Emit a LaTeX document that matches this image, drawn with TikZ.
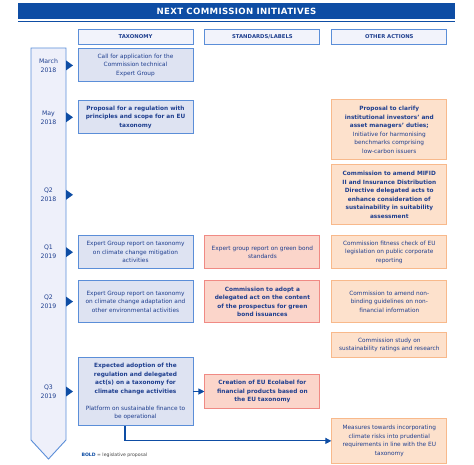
\documentclass[tikz,border=0pt]{standalone}
\usepackage{fontspec}
\setmainfont{DejaVu Sans}
\usetikzlibrary{positioning,arrows.meta}
\definecolor{euBlue}{HTML}{0E4DA4}
\definecolor{txtBlue}{HTML}{1F3F8F}
\definecolor{lineBlue}{HTML}{5B8ED8}
\definecolor{taxFill}{HTML}{DEE3F2}
\definecolor{headFill}{HTML}{F2F3FB}
\definecolor{stdFill}{HTML}{FBD5CA}
\definecolor{stdLine}{HTML}{F08A84}
\definecolor{othFill}{HTML}{FDE1CC}
\definecolor{othLine}{HTML}{F8B98B}
\definecolor{timeFill}{HTML}{EEF0FA}

\begin{document}
\begin{tikzpicture}[x=1pt, y=-1pt,
        box/.style={draw, line width=0.9pt, minimum width=115pt, align=center, inner xsep=3pt, inner ysep=2pt,
            text=txtBlue, font=\fontsize{5.8}{8.5}\selectfont},
        lawbox/.style={font=\fontsize{5.8}{8.5}\selectfont\bfseries},
        head/.style={box, fill=headFill, draw=lineBlue, minimum height=15pt, font=\fontsize{5.3}{6}\selectfont\bfseries},
        tax/.style={box, fill=taxFill, draw=lineBlue},
        std/.style={box, fill=stdFill, draw=stdLine},
        oth/.style={box, fill=othFill, draw=othLine},
        when/.style={text=txtBlue, align=center, font=\fontsize{6.2}{9}\selectfont},
        tick/.style={fill=euBlue},
        link/.style={draw=euBlue, line width=1.1pt, -{Triangle[length=6pt,width=6pt]}}]
    \useasboundingbox (0,0) rectangle (474,465);
    \node[fill=euBlue, text=white, minimum width=437pt, minimum height=16pt, inner sep=0pt,
        font=\fontsize{8.6}{9}\selectfont\bfseries\addfontfeatures{LetterSpace=4}] (title) at (236.5,11) {NEXT COMMISSION INITIATIVES};
    \draw[euBlue, line width=1pt] ([yshift=-2.5pt]title.south west) -- ([yshift=-2.5pt]title.south east);

    \node[head] (taxHead) at (135.5,36.5) {TAXONOMY};
    \node[head, right=11pt of taxHead] (stdHead) {STANDARDS/LABELS};
    \node[head, right=11pt of stdHead] (othHead) {OTHER ACTIONS};

    \draw[fill=timeFill, draw=lineBlue, line width=0.9pt] (31,48) -- (66,48) -- (66,440) -- (48.5,459) -- (31,440) -- cycle;
    \coordinate (axis) at (48.5,48);
    \coordinate (rail) at (66,48);

    \node[tax, minimum height=33pt, below=4pt of taxHead] (marchTax)
        {Call for application for the\\Commission technical\\Expert Group};
    \node[tax, lawbox, minimum height=33pt, below=18pt of marchTax] (mayTax)
        {Proposal for a regulation with\\principles and scope for an EU\\taxonomy};
    \node[tax, minimum height=33pt, below=101pt of mayTax] (qOneTax)
        {Expert Group report on taxonomy\\on climate change mitigation\\activities};
    \node[tax, minimum height=42pt, below=11pt of qOneTax] (qTwoTax)
        {Expert Group report on taxonomy\\on climate change adaptation and\\other environmental activities};
    \node[tax, lawbox, minimum height=68pt, below=34pt of qTwoTax] (qThreeTax)
        {Expected adoption of the\\regulation and delegated\\act(s) on a taxonomy for\\climate change activities\\[8.5pt]
        \mdseries Platform on sustainable finance to\\\mdseries be operational};

    \node[std, minimum height=33pt, right=11pt of qOneTax] (qOneStd)
        {Expert group report on green bond\\standards};
    \node[std, lawbox, minimum height=42pt, right=11pt of qTwoTax] (qTwoStd)
        {Commission to adopt a\\delegated act on the content\\of the prospectus for green\\bond issuances};
    \node[std, lawbox, minimum height=34pt, right=11pt of qThreeTax] (ecolabel)
        {Creation of EU Ecolabel for\\financial products based on\\the EU taxonomy};

    \node[oth, lawbox, minimum height=60pt, below=55pt of othHead] (othOne)
        {Proposal to clarify\\institutional investors' and\\asset managers' duties;\\
        \mdseries Initiative for harmonising\\\mdseries benchmarks comprising\\\mdseries low-carbon issuers};
    \node[oth, lawbox, minimum height=60pt, below=4pt of othOne] (othTwo)
        {Commission to amend MIFID\\II and Insurance Distribution\\Directive delegated acts to\\enhance consideration of\\sustainability in suitability\\assessment};
    \node[oth, minimum height=33pt, right=11pt of qOneStd] (othThree)
        {Commission fitness check of EU\\legislation on public corporate\\reporting};
    \node[oth, minimum height=42pt, right=11pt of qTwoStd] (othFour)
        {Commission to amend non-\\binding guidelines on non-\\financial information};
    \node[oth, minimum height=25pt, below=9pt of othFour] (othFive)
        {Commission study on\\sustainability ratings and research};
    \node[oth, minimum height=45pt, below=60pt of othFive] (othSix)
        {Measures towards incorporating\\climate risks into prudential\\requirements in line with the EU\\taxonomy};

    \node[when] (marchWhen) at (axis |- marchTax) {March\\2018};
    \node[when] (mayWhen) at (axis |- mayTax) {May\\2018};
    \node[when] (qTwoEarly) at (axis |- othTwo) {Q2\\2018};
    \node[when] (qOneWhen) at (axis |- qOneTax) {Q1\\2019};
    \node[when] (qTwoWhen) at (axis |- qTwoTax) {Q2\\2019};
    \node[when] (qThreeWhen) at (axis |- qThreeTax) {Q3\\2019};
    \foreach \row in {marchTax, mayTax, othTwo, qOneTax, qTwoTax, qThreeTax}
        \fill[tick] (rail |- \row) ++(0,-5) -- ++(7,5) -- ++(-7,5) -- cycle;

    \draw[link] (qThreeTax) -- (ecolabel);
    \draw[link] ([xshift=-10.5pt]qThreeTax.south) |- (othSix);

    \node[anchor=west, text=black!75, font=\fontsize{4.6}{5}\selectfont] (legend) at (78,455)
        {\textcolor{euBlue}{\bfseries BOLD} = legislative proposal};
\end{tikzpicture}
\end{document}
